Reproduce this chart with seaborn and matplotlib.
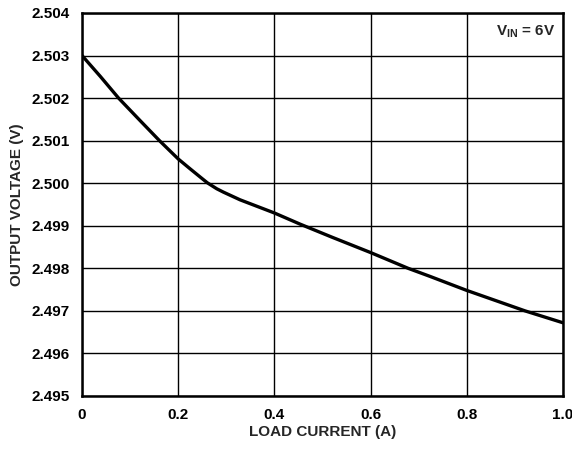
import numpy as np
import pandas as pd
import seaborn as sns
import matplotlib
matplotlib.use("Agg")
import matplotlib.pyplot as plt

# values
load_current = [0.0, 0.038, 0.076, 0.12, 0.161, 0.2, 0.2245, 0.2495, 0.2605,
                0.28, 0.294, 0.3285, 0.4, 0.453, 0.52, 0.6, 0.678, 0.7235,
                0.8, 0.921, 1.0]
output_voltage = [2.5030, 2.50251, 2.5020, 2.50148, 2.5010, 2.50057, 2.50034,
                  2.50011, 2.50001, 2.49987, 2.49979, 2.49961, 2.49930,
                  2.49904, 2.49873, 2.49837, 2.4980, 2.49781, 2.49748,
                  2.4970, 2.49672]
x_ticks = [0, 0.2, 0.4, 0.6, 0.8, 1.0]
x_labels = ["0", "0.2", "0.4", "0.6", "0.8", "1.0"]
y_ticks = [2.495, 2.496, 2.497, 2.498, 2.499, 2.500, 2.501, 2.502, 2.503, 2.504]

sns.set_theme(style="white")
plt.rcParams['font.family'] = ['Liberation Sans', 'DejaVu Sans']
plt.rcParams['font.weight'] = 'bold'
plt.rcParams['mathtext.fontset'] = 'custom'
plt.rcParams['mathtext.rm'] = 'Liberation Sans:bold'
plt.rcParams['mathtext.bf'] = 'Liberation Sans:bold'

df = pd.DataFrame({"current": load_current, "voltage": output_voltage})

fig = plt.figure(figsize=(5.72, 4.51), dpi=100)
ax = fig.add_axes([0.1434, 0.122, 0.8409, 0.8492])

sns.lineplot(data=df, x="current", y="voltage", ax=ax, color="black",
             linewidth=2.4, zorder=3)

ax.set_xlim(0, 1.0)
ax.set_ylim(2.495, 2.504)
ax.set_xticks(x_ticks)
ax.set_xticklabels(x_labels)
ax.set_yticks(y_ticks)
ax.set_yticklabels([f"{v:.3f}" for v in y_ticks])
ax.tick_params(length=0, labelsize=11, colors="black")
ax.tick_params(axis="y", pad=9)
ax.tick_params(axis="x", pad=9)
for lab in ax.get_xticklabels() + ax.get_yticklabels():
    lab.set_fontweight("bold")

ax.grid(True, color="black", linewidth=1.0)
for s in ax.spines.values():
    s.set_color("black")
    s.set_linewidth(1.8)

ax.set_xlabel("LOAD CURRENT (A)", fontsize=11, fontweight="bold", labelpad=2)
ax.set_ylabel("OUTPUT VOLTAGE (V)", fontsize=11, fontweight="bold", labelpad=5)

ax.text(0.985, 0.95, r"V$_{\mathrm{IN}}$ = 6V", transform=ax.transAxes,
        ha="right", va="center", fontsize=11, fontweight="bold")

fig.savefig("out.png", dpi=100)
